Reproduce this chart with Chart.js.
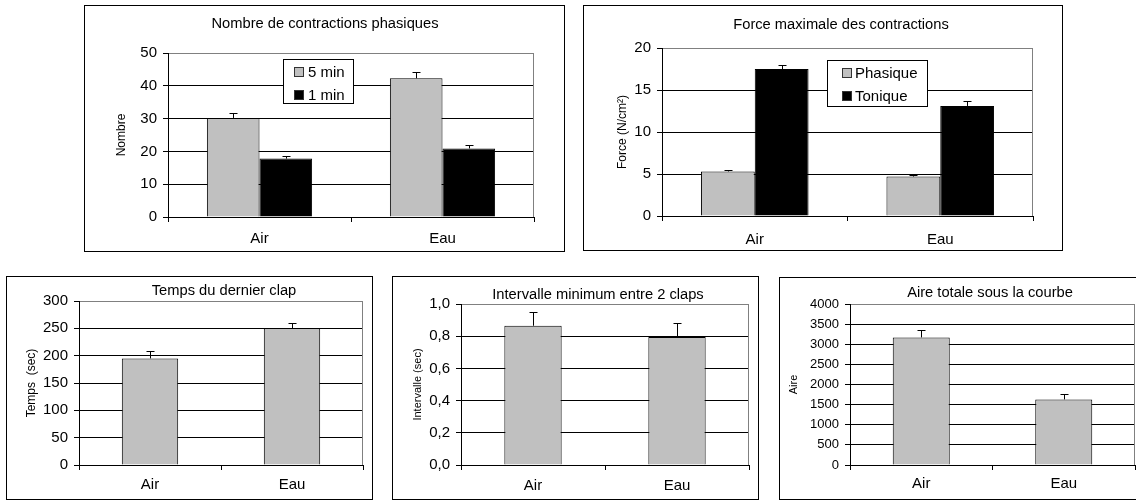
<!DOCTYPE html>
<html>
<head>
<meta charset="utf-8">
<script src="https://cdn.jsdelivr.net/npm/chart.js@4.4.1/dist/chart.umd.min.js"></script>
<style>
    html, body { margin: 0; padding: 0; background: #fff; width: 1136px; height: 500px; overflow: hidden; }
    .panel { position: absolute; border: 1px solid #000; background: #fff; }
    .panel canvas { display: block; }
</style>
</head>
<body>
<div class="panel" style="left:84px;top:5px;"><canvas id="c1" width="479" height="245"></canvas></div>
<div class="panel" style="left:583px;top:5px;"><canvas id="c2" width="478" height="244"></canvas></div>
<div class="panel" style="left:6px;top:276px;"><canvas id="c3" width="365" height="222"></canvas></div>
<div class="panel" style="left:392px;top:276px;"><canvas id="c4" width="365" height="222"></canvas></div>
<div class="panel" style="left:779px;top:277px;"><canvas id="c5" width="365" height="221"></canvas></div>
<script>
// ---- data ----
const categories = ['Air', 'Eau'];

// Nombre de contractions phasiques
const nombre5min = [30.2, 42.3];
const nombre5minErr = [1.5, 2.0];
const nombre1min = [17.8, 20.9];
const nombre1minErr = [0.9, 1.0];

// Force maximale des contractions
const forcePhasique = [5.3, 4.7];
const forcePhasiqueErr = [0.2, 0.2];
const forceTonique = [17.5, 13.1];
const forceToniqueErr = [0.5, 0.65];

// Temps du dernier clap
const tempsDernierClap = [195, 250];
const tempsDernierClapErr = [13, 9];

// Intervalle minimum entre 2 claps
const intervalleMin = [0.865, 0.795];
const intervalleMinErr = [0.085, 0.085];

// Aire totale sous la courbe
const aireTotale = [3170, 1630];
const aireTotaleErr = [190, 130];

const GRAY = '#C0C0C0';
const FAMILY = '"Liberation Sans", Arial, sans-serif';

Chart.defaults.font.family = FAMILY;
Chart.defaults.color = '#000';

// upward-only error bars with a small cap
const errorBars = {
    id: 'errorBars',
    afterDatasetsDraw(chart) {
        const ctx = chart.ctx;
        const yScale = chart.scales.y;
        chart.data.datasets.forEach((ds, i) => {
            if (!ds.errors) return;
            chart.getDatasetMeta(i).data.forEach((bar, j) => {
                const top = Math.round(yScale.getPixelForValue(ds.data[j] + ds.errors[j])) + 0.5;
                const x = Math.round(bar.x) + 0.5;
                ctx.save();
                ctx.strokeStyle = '#000';
                ctx.lineWidth = 1;
                ctx.beginPath();
                ctx.moveTo(x, bar.y);
                ctx.lineTo(x, top);
                ctx.moveTo(x - 4, top);
                ctx.lineTo(x + 4, top);
                ctx.stroke();
                ctx.restore();
            });
        });
    }
};

// grey right edge of the plot area
const plotFrame = {
    id: 'plotFrame',
    beforeDatasetsDraw(chart) {
        const { ctx, chartArea: a } = chart;
        const x = Math.round(a.right) - 0.5;
        ctx.save();
        ctx.strokeStyle = '#808080';
        ctx.lineWidth = 1;
        ctx.beginPath();
        ctx.moveTo(x, a.top);
        ctx.lineTo(x, a.bottom);
        ctx.stroke();
        ctx.restore();
    }
};

// panel title, placed where the original has it (not always centred on the canvas)
const panelTitle = {
    id: 'panelTitle',
    afterDraw(chart, args, o) {
        if (!o || !o.text) return;
        const ctx = chart.ctx;
        ctx.save();
        ctx.font = o.size + 'px ' + FAMILY;
        ctx.fillStyle = '#000';
        ctx.textAlign = 'center';
        ctx.textBaseline = 'middle';
        ctx.fillText(o.text, o.x, o.y);
        ctx.restore();
    }
};

// Excel-style boxed legend inside the plot
const boxLegend = {
    id: 'boxLegend',
    afterDraw(chart, args, o) {
        if (!o || o.x == null) return;
        const ctx = chart.ctx;
        ctx.save();
        ctx.fillStyle = '#fff';
        ctx.fillRect(o.x, o.y, o.w, o.h);
        ctx.strokeStyle = '#000';
        ctx.lineWidth = 1;
        ctx.strokeRect(o.x + 0.5, o.y + 0.5, o.w - 1, o.h - 1);
        ctx.font = o.size + 'px ' + FAMILY;
        ctx.textBaseline = 'middle';
        chart.data.datasets.forEach((ds, i) => {
            const cy = Math.round(o.y + o.rowY[i]);
            const sx = o.x + o.swatchX;
            ctx.fillStyle = ds.backgroundColor;
            ctx.fillRect(sx, cy - 5, 10, 10);
            ctx.strokeStyle = '#333';
            ctx.strokeRect(sx + 0.5, cy - 4.5, 9, 9);
            ctx.fillStyle = '#000';
            ctx.fillText(ds.label, o.x + o.textX, cy + 1);
        });
        ctx.restore();
    }
};

Chart.register(errorBars, plotFrame, panelTitle, boxLegend);

function barChart(id, cfg) {
    return new Chart(document.getElementById(id), {
        type: 'bar',
        data: { labels: categories, datasets: cfg.datasets },
        options: {
            responsive: false,
            animation: false,
            devicePixelRatio: 1,
            events: [],
            layout: { padding: { left: 0, right: cfg.padRight, top: cfg.padTop, bottom: 0 } },
            datasets: {
                bar: {
                    categoryPercentage: cfg.catPct,
                    barPercentage: 1,
                    borderWidth: 1,
                    borderColor: '#000',
                    borderSkipped: 'start'
                }
            },
            plugins: {
                legend: { display: false },
                tooltip: { enabled: false },
                title: { display: false },
                panelTitle: cfg.title,
                boxLegend: cfg.legend || {}
            },
            scales: {
                x: {
                    afterFit: s => { s.height = cfg.xHeight; },
                    grid: { offset: true, drawOnChartArea: false, drawTicks: true, tickLength: 5, color: '#000' },
                    border: { color: '#000' },
                    ticks: { color: '#000', padding: cfg.xPad, font: { size: 15 } }
                },
                y: {
                    min: 0,
                    max: cfg.max,
                    afterFit: s => { s.width = cfg.yWidth; },
                    ticks: {
                        stepSize: cfg.step,
                        padding: 6,
                        color: '#000',
                        font: { size: cfg.tickSize },
                        callback: cfg.fmt
                    },
                    grid: {
                        color: c => (c.tick && c.tick.value >= cfg.max - 1e-9) ? '#808080' : '#000',
                        tickColor: '#000',
                        tickLength: 5
                    },
                    border: { color: '#000' },
                    title: {
                        display: true,
                        text: cfg.yTitle,
                        color: '#000',
                        font: { size: cfg.yTitleSize, lineHeight: 1 },
                        padding: { top: cfg.yTitlePad, bottom: 0 }
                    }
                }
            }
        }
    });
}

const plain = v => String(v);
const comma = v => Number(v).toFixed(1).replace('.', ',');

barChart('c1', {
    title: { text: 'Nombre de contractions phasiques', x: 240, y: 18, size: 14.7 },
    yTitle: 'Nombre', yTitleSize: 12, yTitlePad: 30.7,
    max: 50, step: 10, tickSize: 15, fmt: plain,
    yWidth: 83, xHeight: 34, padTop: 47, padRight: 30, xPad: 8, catPct: 0.575,
    legend: { x: 198, y: 53, w: 71, h: 45, rowY: [13, 35.5], swatchX: 11, textX: 25, size: 15 },
    datasets: [
        { label: '5 min', data: nombre5min, errors: nombre5minErr, backgroundColor: GRAY },
        { label: '1 min', data: nombre1min, errors: nombre1minErr, backgroundColor: '#000' }
    ]
});

barChart('c2', {
    title: { text: 'Force maximale des contractions', x: 257, y: 19, size: 14.7 },
    yTitle: 'Force (N/cm²)', yTitleSize: 12, yTitlePad: 32.7,
    max: 20, step: 5, tickSize: 15, fmt: plain,
    yWidth: 78, xHeight: 34, padTop: 42, padRight: 29, xPad: 10, catPct: 0.58,
    legend: { x: 243, y: 54, w: 101, h: 47, rowY: [13, 36], swatchX: 15, textX: 28, size: 15 },
    datasets: [
        { label: 'Phasique', data: forcePhasique, errors: forcePhasiqueErr, backgroundColor: GRAY },
        { label: 'Tonique', data: forceTonique, errors: forceToniqueErr, backgroundColor: '#000' }
    ]
});

barChart('c3', {
    title: { text: 'Temps du dernier clap', x: 217, y: 14, size: 14.7 },
    yTitle: 'Temps  (sec)', yTitleSize: 12, yTitlePad: 18.7,
    max: 300, step: 50, tickSize: 15, fmt: plain,
    yWidth: 72, xHeight: 34, padTop: 24, padRight: 9, xPad: 6, catPct: 0.397,
    datasets: [
        { label: 'Temps', data: tempsDernierClap, errors: tempsDernierClapErr, backgroundColor: GRAY }
    ]
});

barChart('c4', {
    title: { text: 'Intervalle minimum entre 2 claps', x: 205, y: 18, size: 14.7 },
    yTitle: 'Intervalle (sec)', yTitleSize: 11, yTitlePad: 19.8,
    max: 1, step: 0.2, tickSize: 15, fmt: comma,
    yWidth: 68, xHeight: 34, padTop: 27, padRight: 9, xPad: 7, catPct: 0.398,
    datasets: [
        { label: 'Intervalle', data: intervalleMin, errors: intervalleMinErr, backgroundColor: GRAY }
    ]
});

barChart('c5', {
    title: { text: 'Aire totale sous la courbe', x: 210, y: 15, size: 14.7 },
    yTitle: 'Aire', yTitleSize: 11, yTitlePad: 8.8,
    max: 4000, step: 500, tickSize: 13, fmt: plain,
    yWidth: 70, xHeight: 34, padTop: 26, padRight: 10, xPad: 5, catPct: 0.4,
    datasets: [
        { label: 'Aire', data: aireTotale, errors: aireTotaleErr, backgroundColor: GRAY }
    ]
});
</script>
</body>
</html>
